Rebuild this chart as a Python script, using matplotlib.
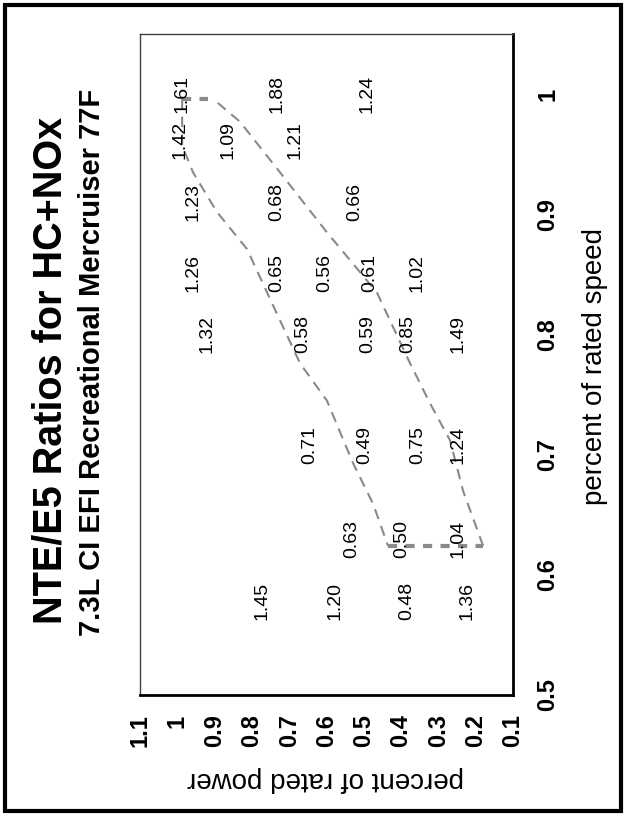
import matplotlib.pyplot as plt
from matplotlib.patches import Rectangle

plt.rcParams['font.family'] = ['Liberation Sans', 'DejaVu Sans']

W, H = 626, 816

# ratio labels: value, percent of rated power, percent of rated speed
ratio_text = ['1.61', '1.88', '1.24',
              '1.42', '1.09', '1.21',
              '1.23', '0.68', '0.66',
              '1.26', '0.65', '0.56', '0.61', '1.02',
              '1.32', '0.58', '0.59', '0.85', '1.49',
              '0.71', '0.49', '0.75', '1.24',
              '0.63', '0.50', '1.04',
              '1.45', '1.20', '0.48', '1.36']
ratio_power = [0.987, 0.733, 0.491,
               0.993, 0.864, 0.684,
               0.958, 0.733, 0.524,
               0.958, 0.733, 0.604, 0.483, 0.357,
               0.920, 0.663, 0.489, 0.381, 0.247,
               0.644, 0.497, 0.355, 0.247,
               0.532, 0.398, 0.247,
               0.773, 0.577, 0.384, 0.223]
ratio_speed = [1.0, 1.0, 1.0,
               0.962, 0.962, 0.962,
               0.910, 0.910, 0.910,
               0.851, 0.851, 0.851, 0.851, 0.851,
               0.800, 0.800, 0.800, 0.800, 0.800,
               0.708, 0.708, 0.708, 0.708,
               0.630, 0.630, 0.630,
               0.578, 0.578, 0.578, 0.578]

# NTE zone boundary
upper_power = [0.987, 0.987, 0.958, 0.894, 0.813, 0.743, 0.671, 0.599, 0.529, 0.475, 0.435]
upper_speed = [0.996, 0.957, 0.935, 0.902, 0.871, 0.824, 0.776, 0.745, 0.693, 0.659, 0.624]
lower_power = [0.180, 0.234, 0.269, 0.323, 0.376, 0.465, 0.599, 0.725, 0.832, 0.904]
lower_speed = [0.624, 0.670, 0.712, 0.743, 0.776, 0.835, 0.885, 0.935, 0.977, 0.996]
top_power = [0.987, 0.918]
top_speed = [0.996, 0.996]
bottom_power = [0.435, 0.180]
bottom_speed = [0.624, 0.624]

power_ticks = [1.1, 1.0, 0.9, 0.8, 0.7, 0.6, 0.5, 0.4, 0.3, 0.2, 0.1]
power_labels = ['1.1', '1', '0.9', '0.8', '0.7', '0.6', '0.5', '0.4', '0.3', '0.2', '0.1']
speed_ticks = [0.5, 0.6, 0.7, 0.8, 0.9, 1.0]
speed_labels = ['0.5', '0.6', '0.7', '0.8', '0.9', '1']


def fx(px):
    return px / W


def fy(py):
    return 1 - py / H


fig = plt.figure(figsize=(W / 100, H / 100), dpi=100)
ax = fig.add_axes([fx(140), fy(695), 373 / W, 661 / H])

gray = '#8a8a8a'
ax.plot(upper_power, upper_speed, color=gray, lw=1.5, dashes=(5, 3.5))
ax.plot(lower_power, lower_speed, color=gray, lw=1.5, dashes=(5, 3.5))
ax.plot(top_power, top_speed, color=gray, lw=3, dashes=(2.2, 2.0))
ax.plot(bottom_power, bottom_speed, color=gray, lw=3, dashes=(2.2, 2.0))

for t, p, s in zip(ratio_text, ratio_power, ratio_speed):
    ax.text(p, s, t, rotation=90, ha='center', va='center', fontsize=14)

ax.set_xlim(1.1, 0.1)
ax.set_ylim(0.5, 1.05)
ax.set_xticks(power_ticks)
ax.set_xticklabels(power_labels, rotation=90, fontsize=17, fontweight='bold')
ax.yaxis.tick_right()
ax.set_yticks(speed_ticks)
ax.set_yticklabels(speed_labels, rotation=90, va='center', fontsize=17, fontweight='bold')
ax.tick_params(axis='x', length=0, pad=14)
ax.tick_params(axis='y', length=0, pad=17)

for side in ['top', 'left']:
    ax.spines[side].set_linewidth(1)
    ax.spines[side].set_color('#404040')
for side in ['right', 'bottom']:
    ax.spines[side].set_linewidth(2)
    ax.spines[side].set_color('black')

fig.text(fx(51), fy(370), 'NTE/E5 Ratios for HC+NOx', rotation=90,
         ha='center', va='center', fontsize=28.5, fontweight='bold')
fig.text(fx(92), fy(362), '7.3L CI EFI Recreational Mercruiser 77F', rotation=90,
         ha='center', va='center', fontsize=21, fontweight='bold')
fig.text(fx(595), fy(367), 'percent of rated speed', rotation=90,
         ha='center', va='center', fontsize=20)
fig.text(fx(326), fy(779), 'percent of rated power', rotation=180,
         ha='center', va='center', fontsize=20)

fig.patches.append(Rectangle((fx(5), fy(811)), 616 / W, 806 / H, transform=fig.transFigure,
                             fill=False, lw=3, ec='black'))

fig.savefig('out.png', dpi=100)
